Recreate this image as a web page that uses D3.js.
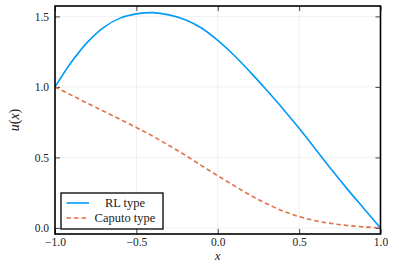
<!DOCTYPE html>
<html>
<head>
<meta charset="utf-8">
<script src="https://cdn.jsdelivr.net/npm/d3@7"></script>
<style>
  body { margin: 0; background: #fff; }
  svg { display: block; }
  text { font-family: "Liberation Serif", "DejaVu Serif", serif; fill: #222; }
</style>
</head>
<body>
<div id="chart"></div>
<script>
// valores
const xs = [-1.0, -0.9, -0.8, -0.7, -0.6, -0.5, -0.4, -0.3, -0.2, -0.1, 0.0, 0.1, 0.2, 0.3, 0.4, 0.5, 0.6, 0.7, 0.8, 0.9, 1.0];
const rlType = [1.0, 1.175, 1.318, 1.423, 1.488, 1.518, 1.527, 1.511, 1.477, 1.418, 1.33, 1.225, 1.105, 0.978, 0.846, 0.707, 0.56, 0.412, 0.27, 0.135, 0.0];
const caputoType = [1.0, 0.942, 0.884, 0.827, 0.77, 0.712, 0.651, 0.585, 0.516, 0.442, 0.37, 0.3, 0.232, 0.172, 0.12, 0.08, 0.051, 0.031, 0.017, 0.007, 0.0];
const xTicks = [-1.0, -0.5, 0.0, 0.5, 1.0];
const yTicks = [0.0, 0.5, 1.0, 1.5];
const seriesNames = ["RL type", "Caputo type"];

const width = 399, height = 274;
const margin = {left: 55, right: 18.5, top: 6, bottom: 40};
const innerW = width - margin.left - margin.right;
const innerH = height - margin.top - margin.bottom;

const x = d3.scaleLinear().domain([-1, 1]).range([0, innerW]);
const y = d3.scaleLinear().domain([-0.043, 1.574]).range([innerH, 0]);

const svg = d3.select("#chart").append("svg")
    .attr("width", width)
    .attr("height", height);

const g = svg.append("g")
    .attr("transform", `translate(${margin.left}, ${margin.top})`);

// grilla
g.append("g").selectAll("line")
    .data(xTicks).enter().append("line")
    .attr("x1", d => x(d)).attr("x2", d => x(d))
    .attr("y1", 0).attr("y2", innerH)
    .attr("stroke", "#000").attr("stroke-opacity", 0.1).attr("stroke-width", 0.6);
g.append("g").selectAll("line")
    .data(yTicks).enter().append("line")
    .attr("x1", 0).attr("x2", innerW)
    .attr("y1", d => y(d)).attr("y2", d => y(d))
    .attr("stroke", "#000").attr("stroke-opacity", 0.1).attr("stroke-width", 0.6);

// ejes (ticks hacia adentro)
const fmt = d => d3.format(".1f")(d).replace("-", "\u2212");
const axisStyle = sel => {
    sel.select(".domain").remove();
    sel.selectAll(".tick line").attr("stroke", "#444").attr("stroke-width", 1);
    sel.selectAll(".tick text").style("font-size", "11.5px").attr("fill", "#333");
};
g.append("g").attr("transform", `translate(0, ${innerH})`)
    .call(d3.axisBottom(x).tickValues(xTicks).tickFormat(fmt).tickSizeInner(-5).tickPadding(4))
    .call(axisStyle);
g.append("g")
    .call(d3.axisTop(x).tickValues(xTicks).tickFormat("").tickSizeInner(-5))
    .call(axisStyle);
g.append("g")
    .call(d3.axisLeft(y).tickValues(yTicks).tickFormat(fmt).tickSizeInner(-5).tickPadding(6))
    .call(axisStyle);
g.append("g").attr("transform", `translate(${innerW}, 0)`)
    .call(d3.axisRight(y).tickValues(yTicks).tickFormat("").tickSizeInner(-5))
    .call(axisStyle);

// curvas
const line = vals => d3.line()
    .x((d, i) => x(xs[i]))
    .y(d => y(d))
    .curve(d3.curveCatmullRom.alpha(0.5))(vals);

g.append("path")
    .attr("d", line(rlType))
    .attr("fill", "none")
    .attr("stroke", "#009AFA")
    .attr("stroke-width", 1.6);

g.append("path")
    .attr("d", line(caputoType))
    .attr("fill", "none")
    .attr("stroke", "#E26F46")
    .attr("stroke-width", 1.6)
    .attr("stroke-dasharray", "4.5,3");

// marco
g.append("rect")
    .attr("width", innerW).attr("height", innerH)
    .attr("fill", "none").attr("stroke", "#000").attr("stroke-width", 1.6);

// leyenda
const legend = g.append("g").attr("transform", "translate(6, 187)");
legend.append("rect")
    .attr("width", 102).attr("height", 36)
    .attr("fill", "#fff").attr("stroke", "#000").attr("stroke-width", 1.3);
const entries = legend.selectAll("g.entry")
    .data(seriesNames).enter().append("g")
    .attr("transform", (d, i) => `translate(0, ${10 + i * 15})`);
entries.append("line")
    .attr("x1", 5.5).attr("x2", 28)
    .attr("stroke", (d, i) => i === 0 ? "#009AFA" : "#E26F46")
    .attr("stroke-width", 1.6)
    .attr("stroke-dasharray", (d, i) => i === 0 ? null : "4.5,3");
entries.append("text")
    .attr("x", 64).attr("dy", "0.35em")
    .attr("text-anchor", "middle")
    .style("font-size", "12.5px")
    .text(d => d);

// etiquetas de ejes
svg.append("text")
    .attr("x", margin.left + innerW / 2).attr("y", 260)
    .attr("text-anchor", "middle")
    .style("font-size", "13px").style("font-style", "italic")
    .text("x");

const yl = svg.append("text")
    .attr("transform", `translate(19, ${margin.top + innerH / 2}) rotate(-90)`)
    .attr("text-anchor", "middle")
    .style("font-size", "14px");
yl.append("tspan").style("font-style", "italic").text("u");
yl.append("tspan").text("(");
yl.append("tspan").style("font-style", "italic").text("x");
yl.append("tspan").text(")");
</script>
</body>
</html>
